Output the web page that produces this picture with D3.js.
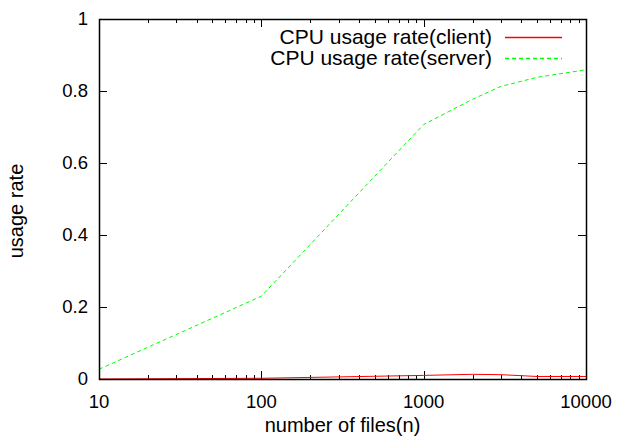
<!DOCTYPE html>
<html>
<head>
<meta charset="utf-8">
<script src="https://cdn.jsdelivr.net/npm/d3@7"></script>
<style>
  body { margin: 0; background: #fff; }
  svg text { font-family: 'Liberation Sans', Arial, sans-serif; fill: #000; }
</style>
</head>
<body>
<div id="wrapper"></div>
<script>
// values
const files = [10, 100, 1000, 2000, 3000, 5000, 10000]
const clientRate = [0.0, 0.002, 0.01, 0.013, 0.012, 0.007, 0.007]
const serverRate = [0.027, 0.23, 0.707, 0.777, 0.813, 0.838, 0.859]
const seriesNames = ['CPU usage rate(client)', 'CPU usage rate(server)']
const xTickValues = [10, 100, 1000, 10000]
const yTickValues = [0, 0.2, 0.4, 0.6, 0.8, 1]

function drawChart() {
  const dimensions = {
    width: 618,
    height: 439,
    margin: { top: 19, right: 32, bottom: 60, left: 99 },
  }
  dimensions.boundedWidth = dimensions.width - dimensions.margin.left - dimensions.margin.right
  dimensions.boundedHeight = dimensions.height - dimensions.margin.top - dimensions.margin.bottom

  const wrapper = d3
    .select('#wrapper')
    .append('svg')
    .attr('width', dimensions.width)
    .attr('height', dimensions.height)

  const bounds = wrapper
    .append('g')
    .attr('transform', `translate(${dimensions.margin.left},${dimensions.margin.top})`)

  const xScale = d3.scaleLog().domain([10, 10000]).range([0, dimensions.boundedWidth])
  const yScale = d3.scaleLinear().domain([0, 1]).range([dimensions.boundedHeight, 0])

  // minor log ticks (2..9 of each decade)
  const minorTicks = xScale.ticks().filter((d) => !xTickValues.includes(d))

  const tickGroup = bounds.append('g').attr('stroke', '#000').attr('stroke-width', 1)
  const H = dimensions.boundedHeight
  const W = dimensions.boundedWidth
  const px = (v) => Math.round(v) + 0.5

  // x ticks, bottom and top, pointing inward
  const xTicks = [
    ...xTickValues.map((d) => ({ v: d, len: 8 })),
    ...minorTicks.map((d) => ({ v: d, len: 4 })),
  ]
  tickGroup
    .selectAll('.x-bottom')
    .data(xTicks)
    .join('line')
    .attr('x1', (d) => px(xScale(d.v)))
    .attr('x2', (d) => px(xScale(d.v)))
    .attr('y1', H)
    .attr('y2', (d) => H - d.len)
  tickGroup
    .selectAll('.x-top')
    .data(xTicks)
    .join('line')
    .attr('x1', (d) => px(xScale(d.v)))
    .attr('x2', (d) => px(xScale(d.v)))
    .attr('y1', 0)
    .attr('y2', (d) => d.len)

  // y ticks, left and right
  tickGroup
    .selectAll('.y-left')
    .data(yTickValues)
    .join('line')
    .attr('x1', 0)
    .attr('x2', 8)
    .attr('y1', (d) => px(yScale(d)))
    .attr('y2', (d) => px(yScale(d)))
  tickGroup
    .selectAll('.y-right')
    .data(yTickValues)
    .join('line')
    .attr('x1', W)
    .attr('x2', W - 8)
    .attr('y1', (d) => px(yScale(d)))
    .attr('y2', (d) => px(yScale(d)))

  // tick labels
  bounds
    .selectAll('.x-label')
    .data(xTickValues)
    .join('text')
    .attr('x', (d) => xScale(d))
    .attr('y', H + 29)
    .attr('text-anchor', 'middle')
    .style('font-size', '18.5px')
    .text((d) => d)
  bounds
    .selectAll('.y-label')
    .data(yTickValues)
    .join('text')
    .attr('x', -11)
    .attr('y', (d) => yScale(d) + 6)
    .attr('text-anchor', 'end')
    .style('font-size', '18.5px')
    .text((d) => d)

  // axis titles
  bounds
    .append('text')
    .attr('x', W / 2)
    .attr('y', H + 53)
    .attr('text-anchor', 'middle')
    .style('font-size', '20px')
    .text('number of files(n)')
  wrapper
    .append('text')
    .attr('transform', `translate(23, 211) rotate(-90)`)
    .attr('text-anchor', 'middle')
    .style('font-size', '20px')
    .text('usage rate')

  // lines
  const lineGenerator = d3
    .line()
    .x((d) => xScale(d[0]))
    .y((d) => yScale(d[1]))

  const series = [
    { name: seriesNames[0], values: d3.zip(files, clientRate), color: '#ff0000', dash: 'none' },
    { name: seriesNames[1], values: d3.zip(files, serverRate), color: '#00ff00', dash: '4,3' },
  ]

  bounds
    .selectAll('.line')
    .data(series)
    .join('path')
    .attr('fill', 'none')
    .style('stroke', (d) => d.color)
    .attr('stroke-width', 1)
    .style('stroke-dasharray', (d) => d.dash)
    .attr('d', (d) => lineGenerator(d.values))

  // legend
  const legend = bounds.append('g').attr('transform', `translate(${W - 81}, 18)`)
  const rows = legend
    .selectAll('g')
    .data(series)
    .join('g')
    .attr('transform', (d, i) => `translate(0, ${i * 21})`)
  rows
    .append('text')
    .attr('x', -13)
    .attr('y', 7)
    .attr('text-anchor', 'end')
    .style('font-size', '21px')
    .text((d) => d.name)
  rows
    .append('path')
    .attr('d', 'M0,0.5H57')
    .attr('fill', 'none')
    .style('stroke', (d) => d.color)
    .style('stroke-width', 1.3)
    .style('stroke-dasharray', (d) => d.dash)

  // frame
  bounds
    .append('rect')
    .attr('x', 0.5)
    .attr('y', 0.5)
    .attr('width', W)
    .attr('height', H)
    .attr('fill', 'none')
    .attr('stroke', '#000')
    .attr('stroke-width', 1.5)
}
drawChart()
</script>
</body>
</html>
